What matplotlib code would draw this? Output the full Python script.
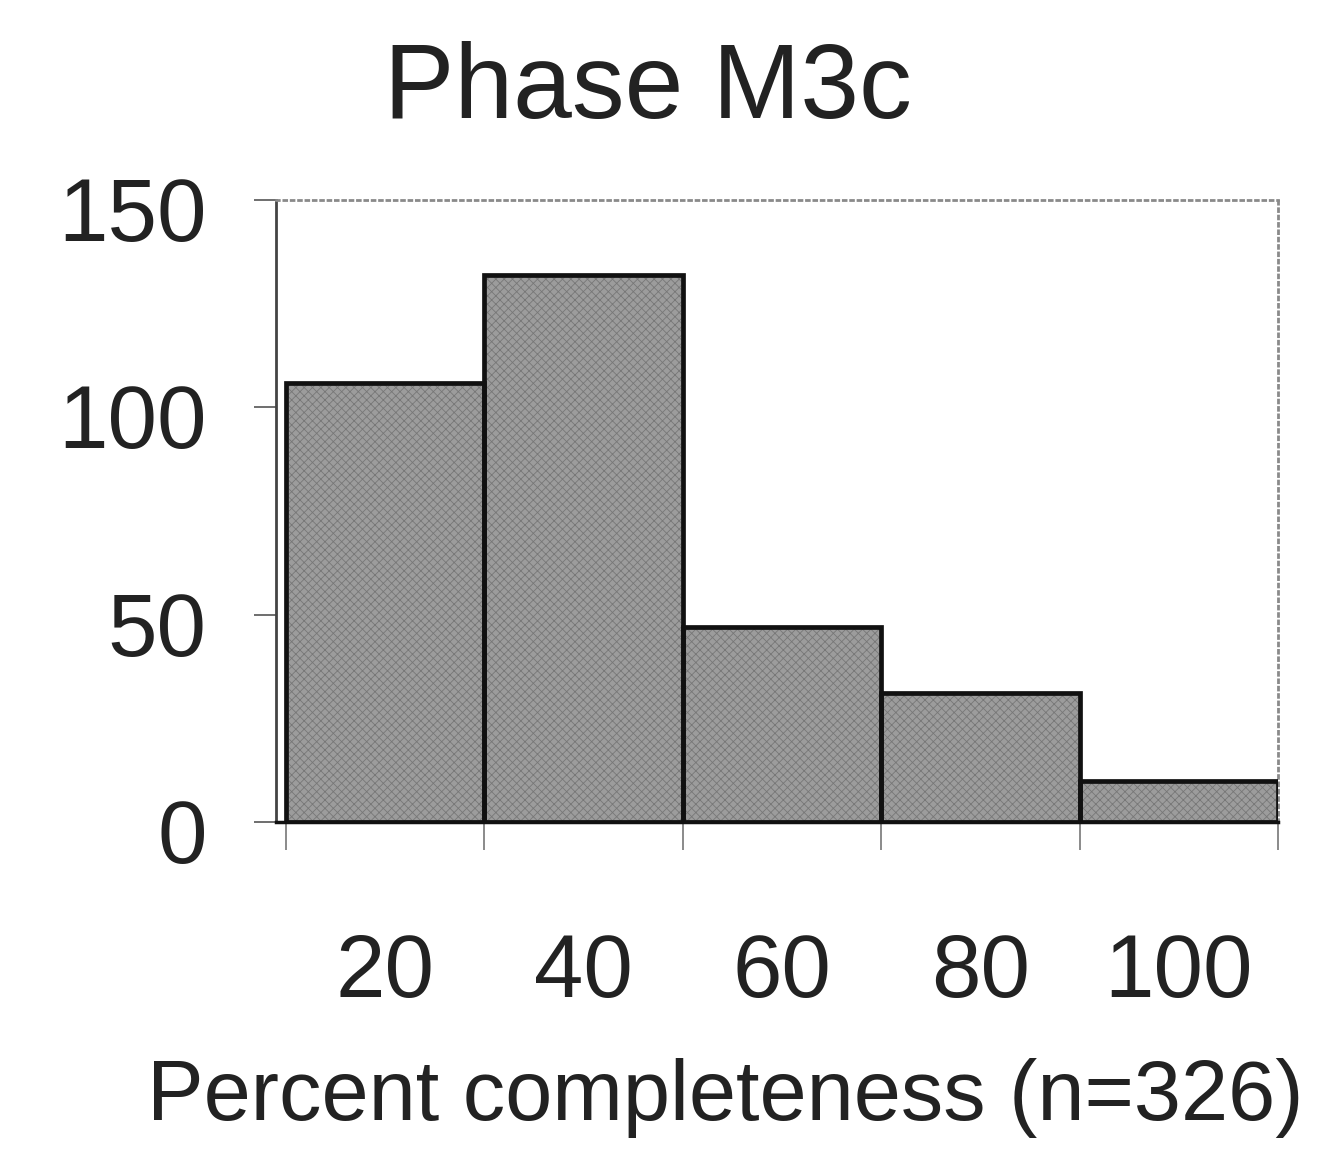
import matplotlib.pyplot as plt
from matplotlib.transforms import ScaledTranslation

plt.rcParams['font.family'] = ['Liberation Sans', 'DejaVu Sans']
plt.rcParams['hatch.linewidth'] = 0.6

# histogram of completeness, 20% bins
bin_centers = [20, 40, 60, 80, 100]
counts = [106, 132, 47, 31, 10]
bin_edges = [10, 30, 50, 70, 90, 110]
x_labels = ['20', '40', '60', '80', '100']
y_ticks = [0, 50, 100, 150]

fig = plt.figure(figsize=(13.27, 11.68), dpi=100)
ax = fig.add_axes([0.208, 0.2962, 0.7551, 0.5325])

# stippled gray fill, then black outlines on top
ax.bar(bin_centers, counts, width=20, color='#9c9c9c', edgecolor='#777777',
       hatch='xxxx', linewidth=0, zorder=2)
ax.bar(bin_centers, counts, width=20, facecolor='none', edgecolor='#111111',
       linewidth=3.4, zorder=3)

ax.set_xlim(9, 110)
ax.set_ylim(0, 150)

ax.set_yticks(y_ticks)
ax.set_yticklabels([str(v) for v in y_ticks])
ax.tick_params(axis='y', direction='out', length=16, width=1.2, color='#555555',
               pad=34, labelsize=64, labelcolor='#222222')
shift = ScaledTranslation(0, -6 / 72, fig.dpi_scale_trans)
for lab in ax.get_yticklabels():
    lab.set_transform(lab.get_transform() + shift)

# major ticks on the bin edges, labels under the bin centres
ax.set_xticks(bin_edges)
ax.set_xticklabels([''] * len(bin_edges))
ax.set_xticks(bin_centers, minor=True)
ax.set_xticklabels(x_labels, minor=True)
ax.tick_params(axis='x', which='major', direction='out', length=20, width=1.2,
               color='#777777')
ax.tick_params(axis='x', which='minor', length=0, pad=79, labelsize=64,
               labelcolor='#222222')

for side in ['top', 'right']:
    ax.spines[side].set_color('#8a8a8a')
    ax.spines[side].set_linestyle(':')
    ax.spines[side].set_linewidth(2.0)
ax.spines['left'].set_color('#444444')
ax.spines['left'].set_linewidth(2.0)
ax.spines['bottom'].set_color('#111111')
ax.spines['bottom'].set_linewidth(2.5)

fig.text(0.488, 0.899, 'Phase M3c', ha='center', va='baseline', fontsize=76,
         color='#222222')
fig.text(0.5464, 0.041, 'Percent completeness (n=326)', ha='center',
         va='baseline', fontsize=61, color='#222222')

fig.savefig('out.png', dpi=100)
